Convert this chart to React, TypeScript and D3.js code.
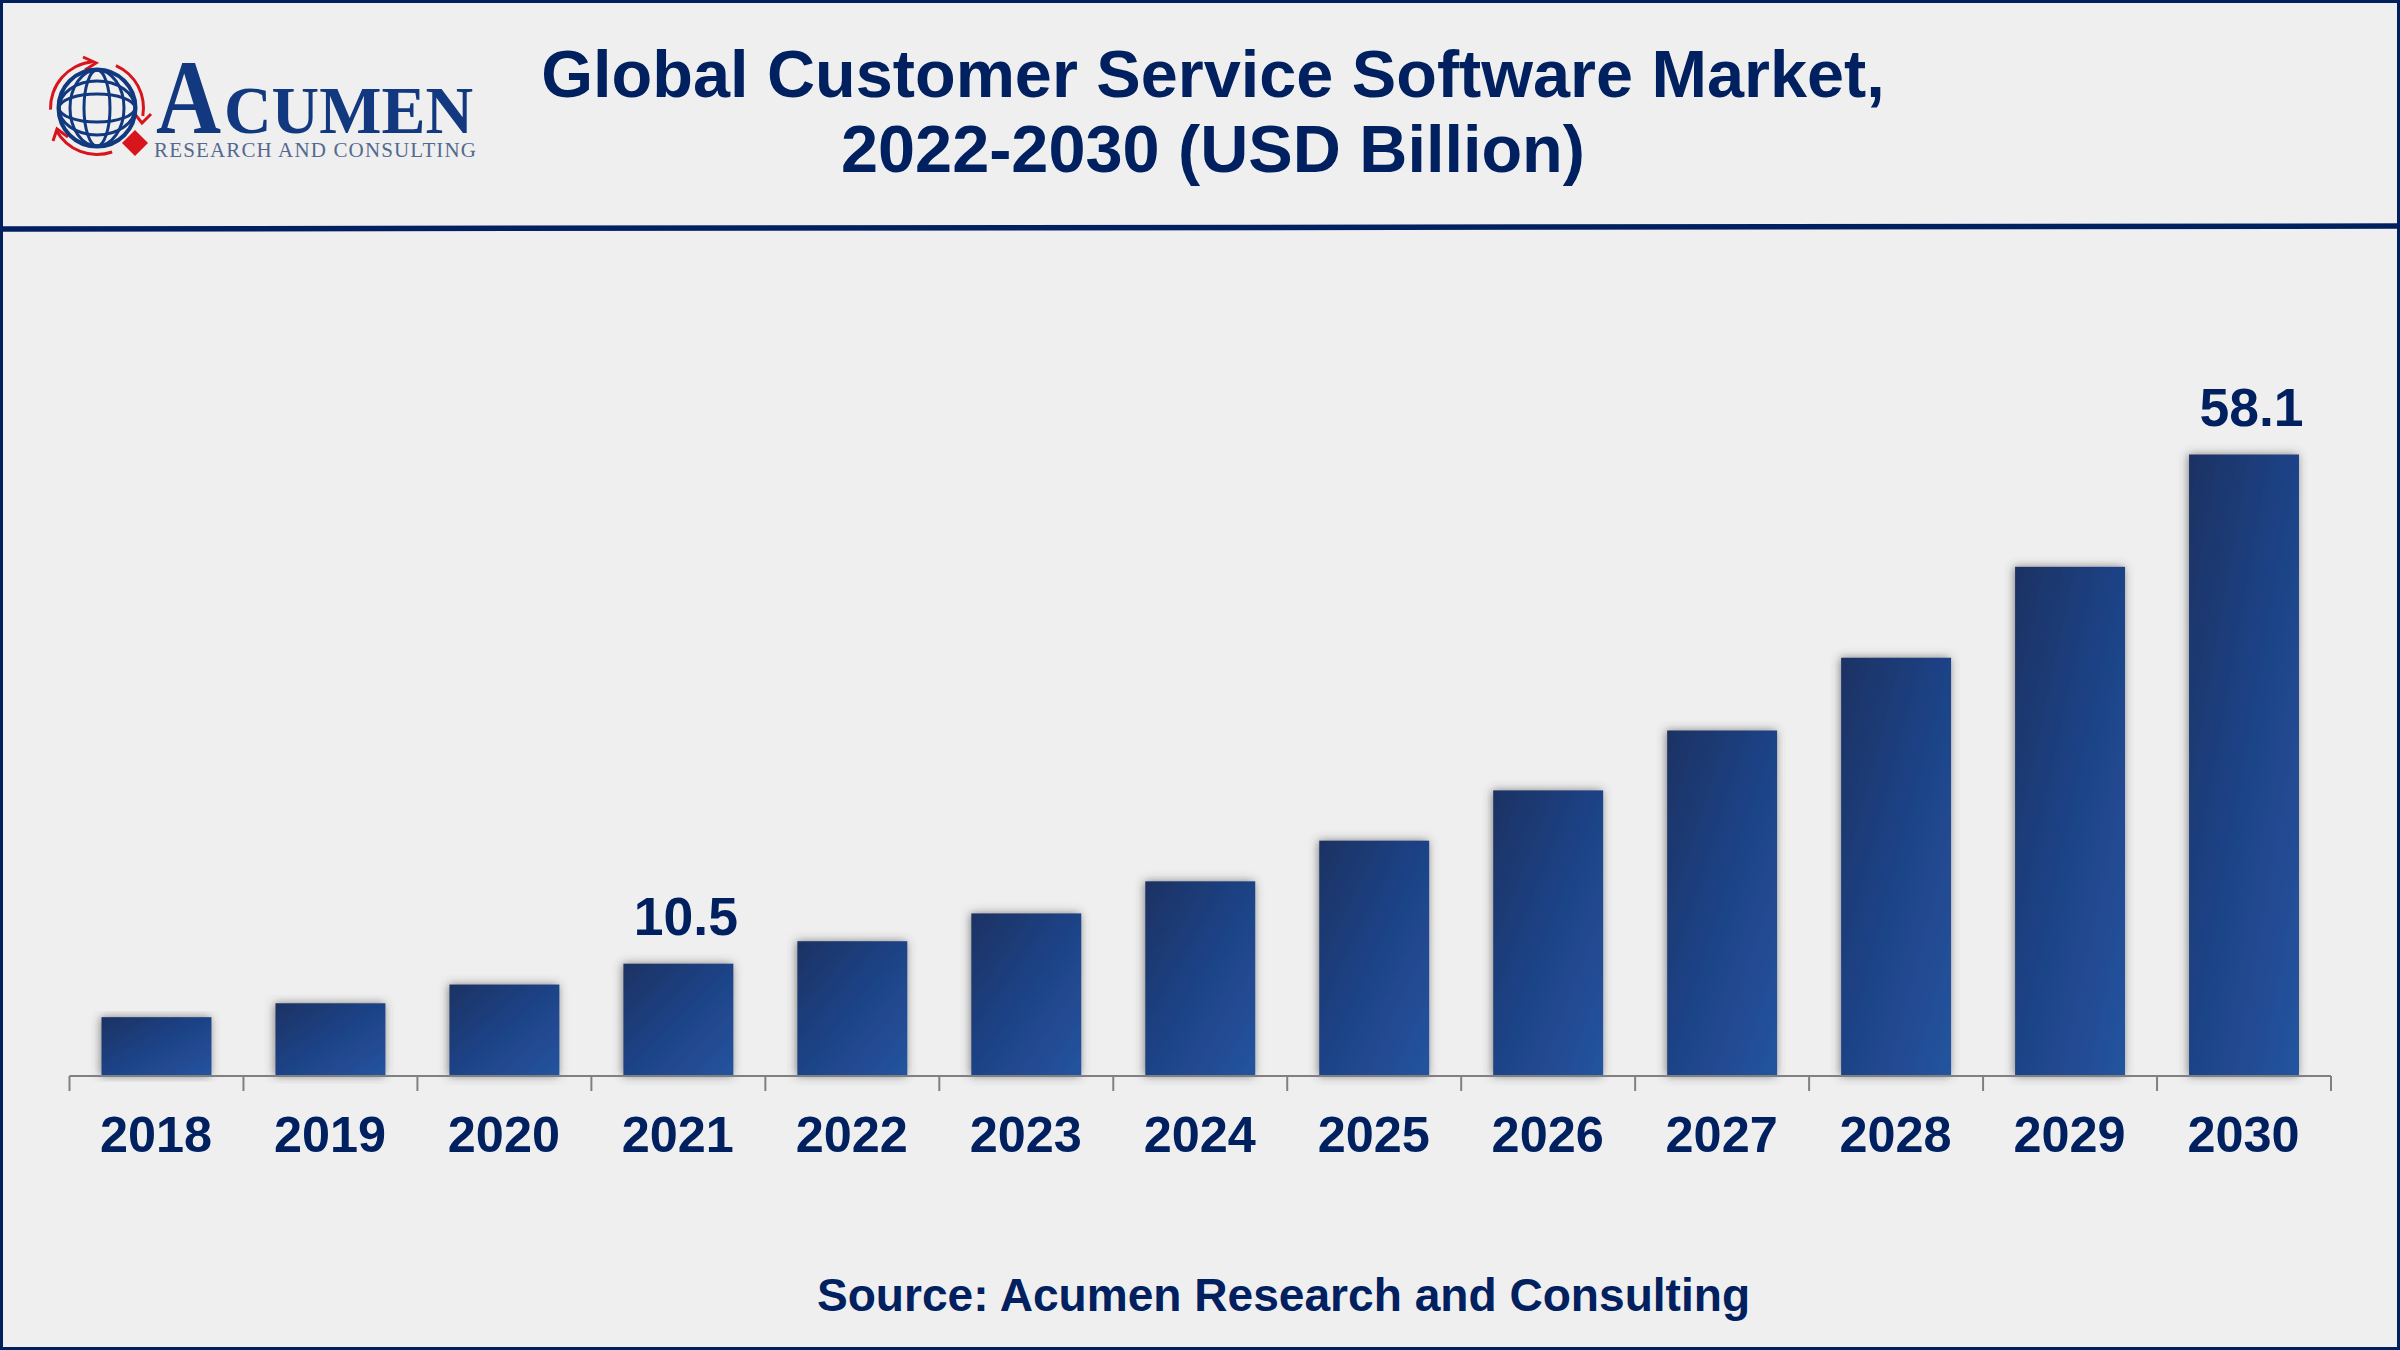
import React from 'react';
import * as d3 from 'd3';

const years = ['2018', '2019', '2020', '2021', '2022', '2023', '2024', '2025', '2026', '2027', '2028', '2029', '2030'];
const marketValues = [5.5, 6.8, 8.55, 10.5, 12.6, 15.2, 18.2, 22.0, 26.7, 32.3, 39.1, 47.6, 58.1];
const labelledYears = ['2021', '2030'];
const titleLines = ['Global Customer Service Software Market,', '2022-2030 (USD Billion)'];
const sourceText = 'Source: Acumen Research and Consulting';

const WIDTH = 2400;
const HEIGHT = 1350;
const NAVY = '#002060';
const LOGO_BLUE = '#12397f';
const LOGO_RED = '#d8141c';
const FONT = '"Liberation Sans", Arial, sans-serif';
const LOGO_FONT = '"Liberation Serif", serif';

const margin = { left: 69.5, right: 69, top: 454.5, bottom: 274 };

const x = d3.scaleBand<string>()
  .domain(years)
  .range([margin.left, WIDTH - margin.right])
  .paddingInner(0.368)
  .paddingOuter(0.184);

const y = d3.scaleLinear()
  .domain([0, 58.1])
  .range([HEIGHT - margin.bottom, margin.top]);

const tickEdges = d3.range(years.length + 1).map(i => margin.left + i * x.step());

// logo arrows around the globe, angles in degrees clockwise from 12 o'clock
const logoArc = d3.arc<{ a0: number; a1: number }>()
  .innerRadius(45)
  .outerRadius(48)
  .startAngle(d => (d.a0 * Math.PI) / 180)
  .endAngle(d => (d.a1 * Math.PI) / 180);

const logoArcs = [
  { a0: 24, a1: 100 },
  { a0: 161, a1: 241 },
  { a0: 268, a1: 354 },
];

const Logo: React.FC = () => (
  <g>
    <g transform="translate(97,108)">
      {logoArcs.map((d, i) => (
        <path key={i} d={logoArc(d) || ''} fill={LOGO_RED} />
      ))}
      <g fill="none" stroke={LOGO_RED} strokeWidth={3}>
        <path d="M-14,-51 L-1,-45 L-12,-38" />
        <path d="M37,5 L45,15 L54,6" />
        <path d="M-44,33 L-40,21 L-29,29" />
      </g>
      <g fill="none" stroke={LOGO_BLUE} strokeWidth={3}>
        <circle r={38.5} strokeWidth={4} />
        <ellipse rx={13} ry={38} />
        <ellipse rx={27} ry={38} />
        <ellipse rx={38} ry={14} />
        <ellipse rx={38} ry={27} />
      </g>
    </g>
    <path d="M135,130 L148,143 L135,156 L122,143 Z" fill={LOGO_RED} />
    <text
      transform="translate(156,133) scale(0.85,1)"
      fontFamily={LOGO_FONT}
      fontWeight={700}
      fontSize={106}
      fill={LOGO_BLUE}
    >
      A
    </text>
    <text
      transform="translate(224,133) scale(0.97,1)"
      fontFamily={LOGO_FONT}
      fontWeight={700}
      fontSize={68}
      fill={LOGO_BLUE}
    >
      CUMEN
    </text>
    <text
      x={154}
      y={157}
      fontFamily={LOGO_FONT}
      fontSize={21}
      fill="#54698f"
      textLength={322}
      lengthAdjust="spacing"
    >
      RESEARCH AND CONSULTING
    </text>
  </g>
);

const App: React.FC = () => {
  const baseline = y(0);

  return (
    <svg
      width={WIDTH}
      height={HEIGHT}
      viewBox={`0 0 ${WIDTH} ${HEIGHT}`}
      style={{ position: 'absolute', left: 0, top: 0, display: 'block' }}
    >
      <defs>
        <linearGradient id="barFill" x1="0" y1="0" x2="1" y2="1">
          <stop offset="0%" stopColor="#1a3263" />
          <stop offset="50%" stopColor="#1e4387" />
          <stop offset="100%" stopColor="#24549f" />
        </linearGradient>
        <filter id="barShadow" x="-30%" y="-10%" width="160%" height="120%">
          <feDropShadow dx="-1" dy="0" stdDeviation="5" floodColor="#444" floodOpacity="0.65" />
        </filter>
      </defs>

      <rect x={0} y={0} width={WIDTH} height={HEIGHT} fill="#efefef" />

      <Logo />

      {titleLines.map((line, i) => (
        <text
          key={line}
          x={1213}
          y={97 + i * 75}
          textAnchor="middle"
          fontFamily={FONT}
          fontWeight={700}
          fontSize={66.6}
          fill={NAVY}
        >
          {line}
        </text>
      ))}

      <line x1={0} x2={WIDTH} y1={229} y2={226} stroke={NAVY} strokeWidth={5.5} />

      {years.map((year, i) => (
        <rect
          key={year}
          x={x(year)}
          y={y(marketValues[i])}
          width={x.bandwidth()}
          height={baseline - y(marketValues[i])}
          fill="url(#barFill)"
          filter="url(#barShadow)"
        />
      ))}

      <g stroke="#808080" strokeWidth={2}>
        <line x1={tickEdges[0]} x2={tickEdges[years.length]} y1={baseline} y2={baseline} />
        {tickEdges.map(t => (
          <line key={t} x1={t} x2={t} y1={baseline} y2={baseline + 15} />
        ))}
      </g>

      {years.map(year => (
        <text
          key={year}
          x={(x(year) || 0) + x.bandwidth() / 2 - 0.5}
          y={1152}
          textAnchor="middle"
          fontFamily={FONT}
          fontWeight={700}
          fontSize={50.4}
          fill={NAVY}
        >
          {year}
        </text>
      ))}

      {labelledYears.map(year => {
        const value = marketValues[years.indexOf(year)];
        return (
          <text
            key={year}
            x={(x(year) || 0) + x.bandwidth() / 2 + 7.5}
            y={y(value) - 29}
            textAnchor="middle"
            fontFamily={FONT}
            fontWeight={700}
            fontSize={53.5}
            fill={NAVY}
          >
            {value.toFixed(1)}
          </text>
        );
      })}

      <text
        x={1283.5}
        y={1311}
        textAnchor="middle"
        fontFamily={FONT}
        fontWeight={700}
        fontSize={46.1}
        fill={NAVY}
      >
        {sourceText}
      </text>

      <rect x={1.5} y={1.5} width={WIDTH - 3} height={HEIGHT - 3} fill="none" stroke={NAVY} strokeWidth={3} />
    </svg>
  );
};

export default App;
